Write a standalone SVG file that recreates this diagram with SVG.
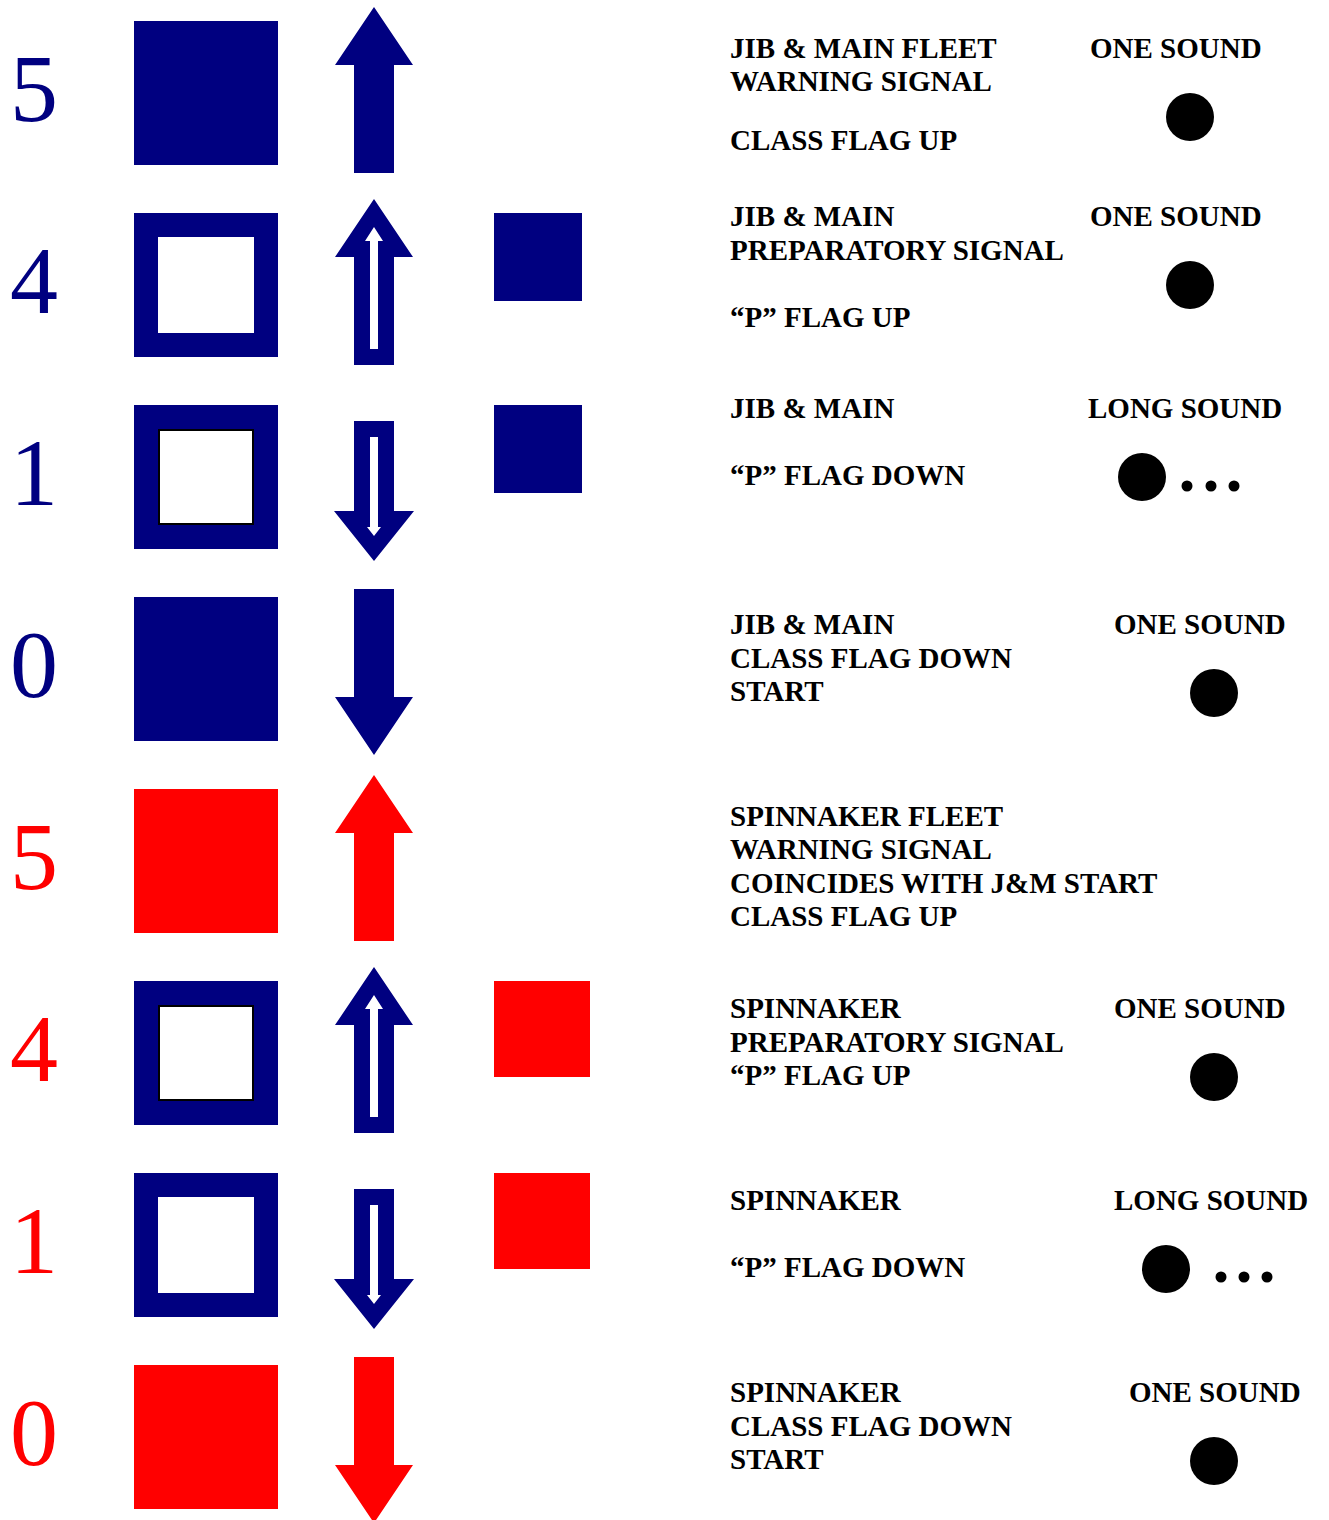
<svg xmlns="http://www.w3.org/2000/svg" width="1329" height="1520" viewBox="0 0 1329 1520">
<style>
.num{font-family:"Liberation Serif","Times New Roman",serif;font-size:96px}
.b{fill:#000080}
.r{fill:#FF0000}
.w{fill:#FFFFFF}
.wo{fill:#FFFFFF;stroke:#000000;stroke-width:2}
.t{font-family:"Liberation Serif","Times New Roman",serif;font-size:29px;font-weight:bold;fill:#000000}
.d{fill:#000000}
</style>
<defs>
<path id="upSolid" d="M374,-14 L413,44 L394,44 L394,152 L354,152 L354,44 L335,44 Z"/>
<path id="upInner" d="M374,14 L383,28 L378,28 L378,136 L370,136 L370,28 L365,28 Z"/>
<path id="downSolid" d="M354,-8 L394,-8 L394,100 L413,100 L374,158 L335,100 L354,100 Z"/>
<path id="downOut" d="M354,16 L394,16 L394,106 L414,106 L374,156 L334,106 L354,106 Z"/>
<path id="downInner" d="M370,32 L378,32 L378,122 L381,122 L374,131 L367,122 L370,122 Z"/>
</defs>

<g id="row1" transform="translate(0,21)">
<text class="num b" x="10" y="100">5</text>
<rect class="b" x="134" y="0" width="144" height="144"/>
<use href="#upSolid" class="b"/>
</g>
<g id="row1-text">
<text class="t" x="730" y="58">JIB &amp; MAIN FLEET</text>
<text class="t" x="730" y="91">WARNING SIGNAL</text>
<text class="t" x="730" y="150">CLASS FLAG UP</text>
<text class="t" x="1090" y="58">ONE SOUND</text>
<circle class="d" cx="1190" cy="117" r="24"/>
</g>

<g id="row2" transform="translate(0,213)">
<text class="num b" x="10" y="100">4</text>
<rect class="b" x="134" y="0" width="144" height="144"/>
<rect class="w" x="158" y="24" width="96" height="96"/>
<use href="#upSolid" class="b"/>
<use href="#upInner" class="w"/>
<rect class="b" x="494" y="0" width="88" height="88"/>
</g>
<g id="row2-text">
<text class="t" x="730" y="226">JIB &amp; MAIN</text>
<text class="t" x="730" y="260">PREPARATORY SIGNAL</text>
<text class="t" x="730" y="327">“P” FLAG UP</text>
<text class="t" x="1090" y="226">ONE SOUND</text>
<circle class="d" cx="1190" cy="285" r="24"/>
</g>

<g id="row3" transform="translate(0,405)">
<text class="num b" x="10" y="100">1</text>
<rect class="b" x="134" y="0" width="144" height="144"/>
<rect class="wo" x="159" y="25" width="94" height="94"/>
<use href="#downOut" class="b"/>
<use href="#downInner" class="w"/>
<rect class="b" x="494" y="0" width="88" height="88"/>
</g>
<g id="row3-text">
<text class="t" x="730" y="418">JIB &amp; MAIN</text>
<text class="t" x="730" y="485">“P” FLAG DOWN</text>
<text class="t" x="1088" y="418">LONG SOUND</text>
<circle class="d" cx="1142" cy="477" r="24"/>
<circle class="d" cx="1187" cy="486" r="5.5"/>
<circle class="d" cx="1211" cy="486" r="5.5"/>
<circle class="d" cx="1234" cy="486" r="5.5"/>
</g>

<g id="row4" transform="translate(0,597)">
<text class="num b" x="10" y="100">0</text>
<rect class="b" x="134" y="0" width="144" height="144"/>
<use href="#downSolid" class="b"/>
</g>
<g id="row4-text">
<text class="t" x="730" y="634">JIB &amp; MAIN</text>
<text class="t" x="730" y="668">CLASS FLAG DOWN</text>
<text class="t" x="730" y="701">START</text>
<text class="t" x="1114" y="634">ONE SOUND</text>
<circle class="d" cx="1214" cy="693" r="24"/>
</g>

<g id="row5" transform="translate(0,789)">
<text class="num r" x="10" y="100">5</text>
<rect class="r" x="134" y="0" width="144" height="144"/>
<use href="#upSolid" class="r"/>
</g>
<g id="row5-text">
<text class="t" x="730" y="826">SPINNAKER FLEET</text>
<text class="t" x="730" y="859">WARNING SIGNAL</text>
<text class="t" x="730" y="893">COINCIDES WITH J&amp;M START</text>
<text class="t" x="730" y="926">CLASS FLAG UP</text>
</g>

<g id="row6" transform="translate(0,981)">
<text class="num r" x="10" y="100">4</text>
<rect class="b" x="134" y="0" width="144" height="144"/>
<rect class="wo" x="159" y="25" width="94" height="94"/>
<use href="#upSolid" class="b"/>
<use href="#upInner" class="w"/>
<rect class="r" x="494" y="0" width="96" height="96"/>
</g>
<g id="row6-text">
<text class="t" x="730" y="1018">SPINNAKER</text>
<text class="t" x="730" y="1052">PREPARATORY SIGNAL</text>
<text class="t" x="730" y="1085">“P” FLAG UP</text>
<text class="t" x="1114" y="1018">ONE SOUND</text>
<circle class="d" cx="1214" cy="1077" r="24"/>
</g>

<g id="row7" transform="translate(0,1173)">
<text class="num r" x="10" y="100">1</text>
<rect class="b" x="134" y="0" width="144" height="144"/>
<rect class="w" x="158" y="24" width="96" height="96"/>
<use href="#downOut" class="b"/>
<use href="#downInner" class="w"/>
<rect class="r" x="494" y="0" width="96" height="96"/>
</g>
<g id="row7-text">
<text class="t" x="730" y="1210">SPINNAKER</text>
<text class="t" x="730" y="1277">“P” FLAG DOWN</text>
<text class="t" x="1114" y="1210">LONG SOUND</text>
<circle class="d" cx="1166" cy="1269" r="24"/>
<circle class="d" cx="1221" cy="1277" r="5.5"/>
<circle class="d" cx="1244" cy="1277" r="5.5"/>
<circle class="d" cx="1267" cy="1277" r="5.5"/>
</g>

<g id="row8" transform="translate(0,1365)">
<text class="num r" x="10" y="100">0</text>
<rect class="r" x="134" y="0" width="144" height="144"/>
<use href="#downSolid" class="r"/>
</g>
<g id="row8-text">
<text class="t" x="730" y="1402">SPINNAKER</text>
<text class="t" x="730" y="1436">CLASS FLAG DOWN</text>
<text class="t" x="730" y="1469">START</text>
<text class="t" x="1129" y="1402">ONE SOUND</text>
<circle class="d" cx="1214" cy="1461" r="24"/>
</g>

<g id="connectors"/>
</svg>
